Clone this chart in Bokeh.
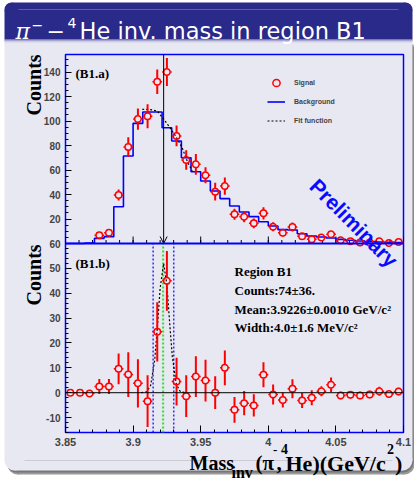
import numpy as np
from bokeh.plotting import figure
from bokeh.models import (Range1d, FixedTicker, Label, Span, Arrow, OpenHead,
                          Legend, LegendItem, GridBox)
from bokeh.embed import file_html
from bokeh.resources import INLINE

# ---------------- data ----------------
x_min, x_max, n_bins = 3.85, 4.10, 35

signal = [0, 0, 0, 6.7, 8.8, 39.6, 78.8, 101.6, 103.8, 132.0, 140.0, 87.8, 68.2, 64.6, 55.7,
          42.3, 46.9, 23.8, 21.9, 16.5, 24.6, 13.7, 8.8, 13.5, 5.9, 3.4, 4.8, 7.5, 2.6,
          1.8, 0.9, 0.8, 1.8, 0.5, 1.3]
signal_err = [0, 0, 0, 2.4, 3.0, 4.5, 8.0, 8.7, 9.8, 10.0, 11.5, 8.5, 8.0, 8.4, 6.5,
              7.2, 7.0, 4.5, 4.5, 4.0, 5.0, 3.7, 3.0, 3.7, 2.4, 1.8, 2.2, 2.7, 1.6,
              1.3, 1.0, 1.0, 1.3, 0.7, 1.1]
background = [0.0, 0.0, 0.3, 4.2, 5.6, 30.0, 71.4, 98.1, 107.3, 107.3, 94.5, 83.7, 70.0, 58.6,
              51.0, 42.9, 36.6, 30.6, 25.7, 21.9, 17.8, 14.3, 11.3, 11.0, 8.0, 6.1, 5.3, 4.5,
              3.4, 2.6, 2.0, 1.5, 1.2, 1.0, 0.8]
diff = [0.0, 0.0, -0.3, 2.5, 2.5, 9.6, 7.3, 3.8, -3.4, 24.5, 45.0, 4.5, -1.4, 6.5, 4.9,
        0.0, 10.0, -6.9, -4.2, -5.1, 7.2, -0.7, -2.9, 1.6, -3.1, -2.0, 0.6, 3.2, -1.1,
        -0.8, -1.1, -0.7, 0.6, -0.5, 0.5]
diff_err = [0.4, 0.4, 0.4, 3.0, 3.0, 6.2, 9.0, 9.7, 10.4, 11.9, 12.0, 9.6, 8.4, 8.2, 8.4,
            6.6, 7.0, 5.2, 4.9, 4.5, 5.0, 4.0, 3.0, 3.8, 3.0, 3.0, 2.0, 2.9, 1.5,
            1.5, 1.5, 1.5, 1.8, 1.5, 1.5]

fit_a_x = [3.9067, 3.9120, 3.9178, 3.9227, 3.9264, 3.9314, 3.9363, 3.9400, 3.9437]
fit_a_y = [109.6, 109.5, 108.2, 101.4, 95.9, 87.8, 78.2, 67.3, 59.2]
fit_b_x = [3.906, 3.910, 3.913, 3.916, 3.918, 3.920, 3.9226, 3.925, 3.927, 3.929, 3.932, 3.935, 3.939]
fit_b_y = [0.0, 0.4, 2.9, 13.3, 26.8, 42.0, 52.0, 43.4, 28.4, 14.5, 3.3, 0.4, 0.0]

peak_mean = 3.9226
window_lines = [3.9148, 3.9301]
mean_line = 3.9222

x_ticks = [3.85, 3.9, 3.95, 4.0, 4.05, 4.1]
x_tick_labels = ["3.85", "3.9", "3.95", "4", "4.05", "4.1"]
top_ticks = [20, 40, 60, 80, 100, 120, 140]
bot_ticks = [-10, 0, 10, 20, 30, 40, 50, 60]

stats_lines = ["Region B1", "Counts:74\u00b136.", "Mean:3.9226\u00b10.0010 GeV/c\u00b2",
               "Width:4.0\u00b11.6 MeV/c\u00b2"]

# ---------------- layout constants ----------------
W, H = 414, 481
FL, FR, FT, FB = 65, 403, 54, 432
B0, B1 = -16.0, 136.0          # lower pad range (value 60 sits at the pad border)
T0, T1 = -154.3, 154.3         # upper pad range (0 sits at the pad border)
LAV = "#e8e8f2"
NAVY = "#2a2a8a"
SERIF = "Liberation Serif"
SANS = "Liberation Sans"

# ================= slide background (whole window, pixel coordinates) =================
bg = figure(width=W, height=H, output_backend="svg", toolbar_location=None, title=None,
            x_range=Range1d(0, W), y_range=Range1d(H, 0), min_border=0,
            x_axis_location=None, y_axis_location=None,
            background_fill_color="white", border_fill_color="white", outline_line_color=None)
bg.grid.visible = False
bg.frame_align = False

def rbox(l, r, t, b, color, rad_top=0, rad_bot=0):
    bg.quad(left=[l], right=[r], top=[t + rad_top], bottom=[b - rad_bot],
            fill_color=color, line_color=None)
    if rad_top:
        bg.quad(left=[l + rad_top], right=[r - rad_top], top=[t], bottom=[t + rad_top],
                fill_color=color, line_color=None)
        bg.circle(x=[l + rad_top, r - rad_top], y=[t + rad_top] * 2, radius=rad_top,
                  fill_color=color, line_color=None)
    if rad_bot:
        bg.quad(left=[l + rad_bot], right=[r - rad_bot], top=[b - rad_bot], bottom=[b],
                fill_color=color, line_color=None)
        bg.circle(x=[l + rad_bot, r - rad_bot], y=[b - rad_bot] * 2, radius=rad_bot,
                  fill_color=color, line_color=None)

rbox(7, 414, 46, 474, "#9a9a9a", 0, 10)
rbox(6, 413, 44, 472, "#777777", 0, 10)
rbox(4, 412, 38, 470, LAV, 0, 10)
rbox(4, 412, 2, 39, NAVY, 7, 0)
rbox(4, 412, 39, 40, "#6a6aae")
rbox(4, 412, 40, 41, "#a4a4cc")
rbox(4, 412, 41, 42, "#cfcfe4")

def blab(text, cx, cy, size, font=SERIF, style="bold", color="black", angle=0.0):
    bg.add_layout(Label(x=cx, y=cy, text=text, text_font=font, text_font_style=style,
                        text_font_size=f"{size}px", text_color=color, angle=angle,
                        text_align="left", text_baseline="alphabetic"))

# title bar text
blab("\u03c0", 15, 30.5, 22, font="DejaVu Serif", style="italic", color="white")
blab("\u2212", 31, 24, 14, font="DejaVu Sans", style="normal", color="white")
blab("\u2212", 46, 30.5, 22, font="DejaVu Sans", style="normal", color="white")
blab("4", 67, 22.5, 14, font="DejaVu Sans", style="normal", color="white")
blab("He inv. mass in region B1", 79, 30.5, 22.5, font="DejaVu Sans", style="normal", color="white")

# y axis titles
blab("Counts", 33, 115, 20, angle=np.pi / 2)
blab("Counts", 33, 305, 20, angle=np.pi / 2)

# x axis title pieces
blab("Mass", 189, 462.5, 20)
blab("inv", 231, 471.5, 16)
blab("(\u03c0", 255, 462.5, 21)
blab("-", 272.5, 449.5, 13)
blab(",", 276, 462.5, 21)
blab("4", 280.5, 448.5, 14)
blab("He)(GeV/c", 285, 462.5, 22)
blab("2", 386.5, 448.5, 14)
blab(")", 394.5, 462.5, 22)

# ================= the two pads (transparent, on top of the background) =================
ppx = (FR - FL) / (x_max - x_min)
ppt = (FB - FT) / (T1 - T0)
ppb = (FB - FT) / (B1 - B0)

p = figure(width=W, height=H, output_backend="svg", toolbar_location=None, title=None,
           x_range=Range1d(x_min, x_max), y_range=Range1d(B0, B1),
           min_border_left=FL, min_border_right=W - FR, min_border_top=FT,
           min_border_bottom=H - FB,
           background_fill_alpha=0, border_fill_alpha=0,
           outline_line_color="blue", outline_line_width=1.5)
p.frame_align = False
p.extra_y_ranges = {"top": Range1d(T0, T1)}
p.grid.visible = False

xa = p.xaxis[0]
x_minor = [round(x_min + 0.01 * i, 2) for i in range(26)]
xa.ticker = FixedTicker(ticks=x_ticks, minor_ticks=x_minor)
xa.major_label_overrides = dict(zip(x_ticks, x_tick_labels))
xa.major_tick_in, xa.major_tick_out = 7, 0
xa.minor_tick_in, xa.minor_tick_out = 3, 0
xa.axis_line_color = None
xa.major_label_text_font = SANS
xa.major_label_text_font_style = "bold"
xa.major_label_text_font_size = "11px"
xa.major_label_standoff = 5

def top_to_main(v):
    return round(B0 + (v - T0) / (T1 - T0) * (B1 - B0), 6)

ya = p.yaxis[0]
y_major = [float(t) for t in bot_ticks] + [top_to_main(v) for v in top_ticks]
y_labels = [str(t) for t in bot_ticks] + [str(v) for v in top_ticks]
y_minor = [float(t) for t in range(-16, 61, 2)] + [top_to_main(v) for v in range(5, 155, 5)]
ya.ticker = FixedTicker(ticks=y_major, minor_ticks=y_minor)
ya.major_label_overrides = dict(zip(y_major, y_labels))
ya.major_tick_in, ya.major_tick_out = 6, 0
ya.minor_tick_in, ya.minor_tick_out = 3, 0
ya.axis_line_color = None
ya.major_label_text_font = SANS
ya.major_label_text_font_style = "bold"
ya.major_label_text_font_size = "10px"
ya.major_label_standoff = 5

p.segment(x0=x_ticks, y0=[0] * len(x_ticks), x1=x_ticks, y1=[7 / ppt] * len(x_ticks),
          y_range_name="top", line_color="black", line_width=1)
p.segment(x0=x_minor, y0=[0] * len(x_minor), x1=x_minor, y1=[3.5 / ppt] * len(x_minor),
          y_range_name="top", line_color="black", line_width=1)

edges = np.linspace(x_min, x_max, n_bins + 1)
centers = list((edges[:-1] + edges[1:]) / 2)
half_w = (x_max - x_min) / n_bins / 2
R_PX = 3.4

def vsegs(xs, ys, es, gap):
    d = dict(x0=[], y0=[], x1=[], y1=[])
    for x, y, e in zip(xs, ys, es):
        if e > gap:
            d["x0"] += [x, x]; d["x1"] += [x, x]
            d["y0"] += [y - e, y + gap]; d["y1"] += [y - gap, y + e]
    return d

def hsegs(xs, ys, hw, gap):
    d = dict(x0=[], y0=[], x1=[], y1=[])
    for x, y in zip(xs, ys):
        d["x0"] += [x - hw, x + gap]; d["x1"] += [x - gap, x + hw]
        d["y0"] += [y, y]; d["y1"] += [y, y]
    return d

RED = "#ff0000"

r_bkg = p.step(x=list(edges), y=background + [background[-1]], mode="after",
               y_range_name="top", line_color="blue", line_width=1.6)
r_fita = p.line(fit_a_x, fit_a_y, y_range_name="top", line_color="black",
                line_dash="2 2", line_width=1.2)

sel = [i for i in range(n_bins) if signal[i] > 0]
sx = [centers[i] for i in sel]
sy = [signal[i] for i in sel]
se = [signal_err[i] for i in sel]
p.segment(**vsegs(sx, sy, se, R_PX / ppt), y_range_name="top", line_color=RED, line_width=2)
p.segment(**hsegs(sx, sy, half_w, R_PX / ppx), y_range_name="top", line_color=RED, line_width=1.5)
r_sig = p.scatter(sx, sy, y_range_name="top", marker="circle", size=6.5,
                  line_color=RED, line_width=1.5, fill_alpha=0)

p.add_layout(Arrow(end=OpenHead(size=7, line_color="black", line_width=1),
                   x_start=peak_mean, y_start=T1, x_end=peak_mean, y_end=0,
                   y_range_name="top", line_color="black", line_width=1))

p.add_layout(Span(location=0, dimension="width", line_color="black", line_width=1))
p.segment(x0=window_lines, y0=[B0] * 2, x1=window_lines, y1=[60] * 2,
          line_color="blue", line_width=1.2, line_dash="2 2")
p.segment(x0=[mean_line], y0=[B0], x1=[mean_line], y1=[60],
          line_color="#33dd33", line_width=2, line_dash="2 2")
p.line(fit_b_x, fit_b_y, line_color="black", line_dash="2 2", line_width=1.2)

p.segment(**vsegs(centers, diff, diff_err, R_PX / ppb), line_color=RED, line_width=2)
p.segment(**hsegs(centers, diff, half_w, R_PX / ppx), line_color=RED, line_width=1.5)
p.scatter(centers, diff, marker="circle", size=6.5, line_color=RED, line_width=1.5, fill_alpha=0)

p.add_layout(Span(location=60, dimension="width", line_color="blue", line_width=2))

legend = Legend(items=[LegendItem(label="Signal", renderers=[r_sig]),
                       LegendItem(label="Background", renderers=[r_bkg]),
                       LegendItem(label="Fit function", renderers=[r_fita])],
                location=(267 - FL, FB - 130), orientation="vertical",
                glyph_width=18, glyph_height=19, label_height=19, label_width=10,
                label_standoff=9, spacing=0, padding=0, margin=0,
                border_line_alpha=0, background_fill_alpha=0,
                label_text_font=SANS, label_text_font_style="bold",
                label_text_font_size="7px")
p.add_layout(legend)

def lab(text, cx, cy, size, font=SERIF, style="bold", color="black", angle=0.0):
    p.add_layout(Label(x=cx - FL, y=FB - cy, x_units="screen", y_units="screen",
                       text=text, text_font=font, text_font_style=style,
                       text_font_size=f"{size}px", text_color=color, angle=angle,
                       text_align="left", text_baseline="alphabetic"))

lab("(B1.a)", 75, 73, 13)
lab("(B1.b)", 75, 263, 13)
for txt, base in zip(stats_lines, [271, 290, 309.3, 327.3]):
    lab(txt, 234, base, 13)
lab("Preliminary", 313, 182, 21, font=SANS, style="bold", color="#0a0aff", angle=-np.pi / 4)

layout = GridBox(children=[(bg, 0, 0), (p, 0, 0)])
open("out.html", "w").write(file_html(layout, INLINE))
